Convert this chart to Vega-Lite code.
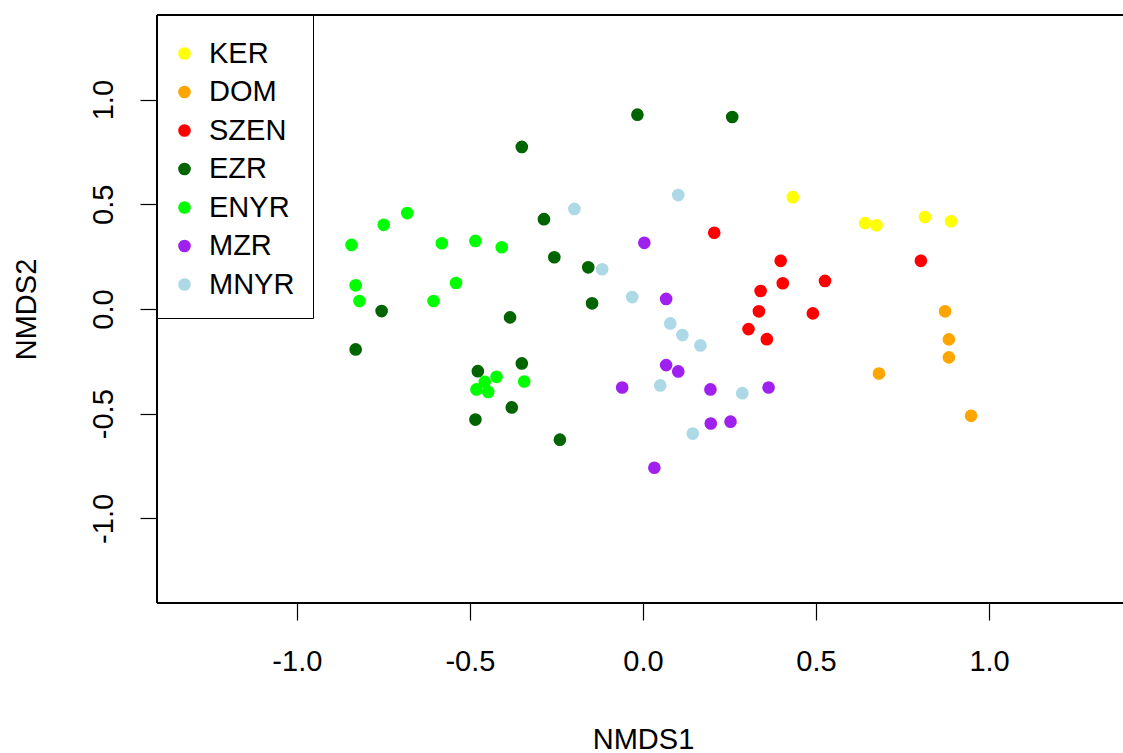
{
  "$schema": "https://vega.github.io/schema/vega-lite/v6.json",
  "width": 966,
  "height": 588,
  "autosize": {"type": "none"},
  "padding": {"left": 157, "top": 15, "right": 0, "bottom": 150},
  "background": "white",
  "config": {
    "font": "Liberation Sans",
    "view": {"stroke": null},
    "axis": {
      "grid": false,
      "domain": false,
      "tickColor": "black",
      "tickSize": 17,
      "tickWidth": 1.2,
      "labelColor": "black",
      "labelFontSize": 29,
      "titleColor": "black",
      "titleFontSize": 29,
      "titleFontWeight": "normal"
    }
  },
  "data": {
    "values": [
      {"x": 0.433, "y": 0.534, "g": "KER"},
      {"x": 0.642, "y": 0.410, "g": "KER"},
      {"x": 0.675, "y": 0.400, "g": "KER"},
      {"x": 0.815, "y": 0.439, "g": "KER"},
      {"x": 0.890, "y": 0.419, "g": "KER"},
      {"x": 0.873, "y": -0.011, "g": "DOM"},
      {"x": 0.884, "y": -0.145, "g": "DOM"},
      {"x": 0.884, "y": -0.231, "g": "DOM"},
      {"x": 0.682, "y": -0.308, "g": "DOM"},
      {"x": 0.948, "y": -0.510, "g": "DOM"},
      {"x": 0.206, "y": 0.364, "g": "SZEN"},
      {"x": 0.398, "y": 0.230, "g": "SZEN"},
      {"x": 0.404, "y": 0.123, "g": "SZEN"},
      {"x": 0.526, "y": 0.134, "g": "SZEN"},
      {"x": 0.340, "y": 0.086, "g": "SZEN"},
      {"x": 0.335, "y": -0.011, "g": "SZEN"},
      {"x": 0.491, "y": -0.021, "g": "SZEN"},
      {"x": 0.305, "y": -0.096, "g": "SZEN"},
      {"x": 0.358, "y": -0.144, "g": "SZEN"},
      {"x": 0.803, "y": 0.230, "g": "SZEN"},
      {"x": -0.286, "y": 0.429, "g": "EZR"},
      {"x": -0.256, "y": 0.247, "g": "EZR"},
      {"x": -0.158, "y": 0.199, "g": "EZR"},
      {"x": -0.147, "y": 0.027, "g": "EZR"},
      {"x": -0.755, "y": -0.010, "g": "EZR"},
      {"x": -0.384, "y": -0.040, "g": "EZR"},
      {"x": -0.830, "y": -0.193, "g": "EZR"},
      {"x": -0.350, "y": -0.260, "g": "EZR"},
      {"x": -0.477, "y": -0.297, "g": "EZR"},
      {"x": -0.379, "y": -0.470, "g": "EZR"},
      {"x": -0.484, "y": -0.528, "g": "EZR"},
      {"x": -0.240, "y": -0.624, "g": "EZR"},
      {"x": -0.016, "y": 0.928, "g": "EZR"},
      {"x": 0.258, "y": 0.917, "g": "EZR"},
      {"x": -0.350, "y": 0.774, "g": "EZR"},
      {"x": -0.681, "y": 0.458, "g": "ENYR"},
      {"x": -0.749, "y": 0.402, "g": "ENYR"},
      {"x": -0.842, "y": 0.306, "g": "ENYR"},
      {"x": -0.581, "y": 0.314, "g": "ENYR"},
      {"x": -0.484, "y": 0.325, "g": "ENYR"},
      {"x": -0.408, "y": 0.295, "g": "ENYR"},
      {"x": -0.830, "y": 0.113, "g": "ENYR"},
      {"x": -0.540, "y": 0.124, "g": "ENYR"},
      {"x": -0.819, "y": 0.038, "g": "ENYR"},
      {"x": -0.605, "y": 0.038, "g": "ENYR"},
      {"x": -0.423, "y": -0.324, "g": "ENYR"},
      {"x": -0.457, "y": -0.348, "g": "ENYR"},
      {"x": -0.481, "y": -0.384, "g": "ENYR"},
      {"x": -0.447, "y": -0.396, "g": "ENYR"},
      {"x": -0.343, "y": -0.346, "g": "ENYR"},
      {"x": 0.004, "y": 0.316, "g": "MZR"},
      {"x": 0.067, "y": 0.048, "g": "MZR"},
      {"x": 0.067, "y": -0.268, "g": "MZR"},
      {"x": 0.102, "y": -0.298, "g": "MZR"},
      {"x": -0.060, "y": -0.375, "g": "MZR"},
      {"x": 0.195, "y": -0.384, "g": "MZR"},
      {"x": 0.363, "y": -0.375, "g": "MZR"},
      {"x": 0.196, "y": -0.547, "g": "MZR"},
      {"x": 0.253, "y": -0.538, "g": "MZR"},
      {"x": 0.033, "y": -0.758, "g": "MZR"},
      {"x": -0.198, "y": 0.478, "g": "MNYR"},
      {"x": 0.102, "y": 0.544, "g": "MNYR"},
      {"x": -0.118, "y": 0.190, "g": "MNYR"},
      {"x": -0.031, "y": 0.057, "g": "MNYR"},
      {"x": 0.079, "y": -0.069, "g": "MNYR"},
      {"x": 0.114, "y": -0.124, "g": "MNYR"},
      {"x": 0.166, "y": -0.174, "g": "MNYR"},
      {"x": 0.050, "y": -0.365, "g": "MNYR"},
      {"x": 0.287, "y": -0.402, "g": "MNYR"},
      {"x": 0.144, "y": -0.595, "g": "MNYR"}
    ]
  },
  "layer": [
    {
      "mark": {"type": "point", "filled": true, "size": 160, "opacity": 1, "strokeWidth": 0},
      "encoding": {
        "x": {
          "field": "x",
          "type": "quantitative",
          "scale": {"domain": [-1.404, 1.387], "nice": false, "zero": false},
          "axis": {
            "title": "NMDS1",
            "values": [-1, -0.5, 0, 0.5, 1],
            "format": ".1f",
            "labelExpr": "replace(datum.label, '−', '-')",
            "labelPadding": 27,
            "labelBaseline": "top",
            "titleX": 486,
            "titleY": 136,
            "titleAlign": "center",
            "titleBaseline": "middle"
          }
        },
        "y": {
          "field": "y",
          "type": "quantitative",
          "scale": {"domain": [-1.404, 1.404], "nice": false, "zero": false},
          "axis": {
            "title": "NMDS2",
            "values": [-1, -0.5, 0, 0.5, 1],
            "format": ".1f",
            "labelExpr": "replace(datum.label, '−', '-')",
            "labelAngle": 270,
            "labelAlign": "center",
            "labelBaseline": "bottom",
            "labelPadding": 22,
            "titleAngle": 270,
            "titleX": -131,
            "titleY": 294,
            "titleAlign": "center",
            "titleBaseline": "middle"
          }
        },
        "color": {
          "field": "g",
          "type": "nominal",
          "scale": {
            "domain": ["KER", "DOM", "SZEN", "EZR", "ENYR", "MZR", "MNYR"],
            "range": ["#FFFF00", "#FFA500", "#FF0000", "#006400", "#00FF00", "#A020F0", "#ADD8E6"]
          },
          "legend": {
            "title": " ",
            "titleFontSize": 6,
            "titlePadding": 0,
            "orient": "none",
            "legendX": 0,
            "legendY": 0,
            "padding": 18,
            "strokeColor": "black",
            "fillColor": "white",
            "symbolType": "circle",
            "symbolSize": 160,
            "symbolStrokeWidth": 0,
            "symbolOpacity": 1,
            "symbolOffset": -5,
            "labelFontSize": 29,
            "labelColor": "black",
            "labelOffset": 10,
            "rowPadding": 8.5
          }
        }
      }
    },
    {
      "mark": {"type": "rule", "color": "black", "strokeWidth": 1.2},
      "encoding": {"x": {"datum": -1.404, "type": "quantitative"}}
    },
    {
      "mark": {"type": "rule", "color": "black", "strokeWidth": 1.2},
      "encoding": {"y": {"datum": 1.404, "type": "quantitative"}}
    },
    {
      "mark": {"type": "rule", "color": "black", "strokeWidth": 1.2},
      "encoding": {"y": {"datum": -1.404, "type": "quantitative"}}
    }
  ]
}
